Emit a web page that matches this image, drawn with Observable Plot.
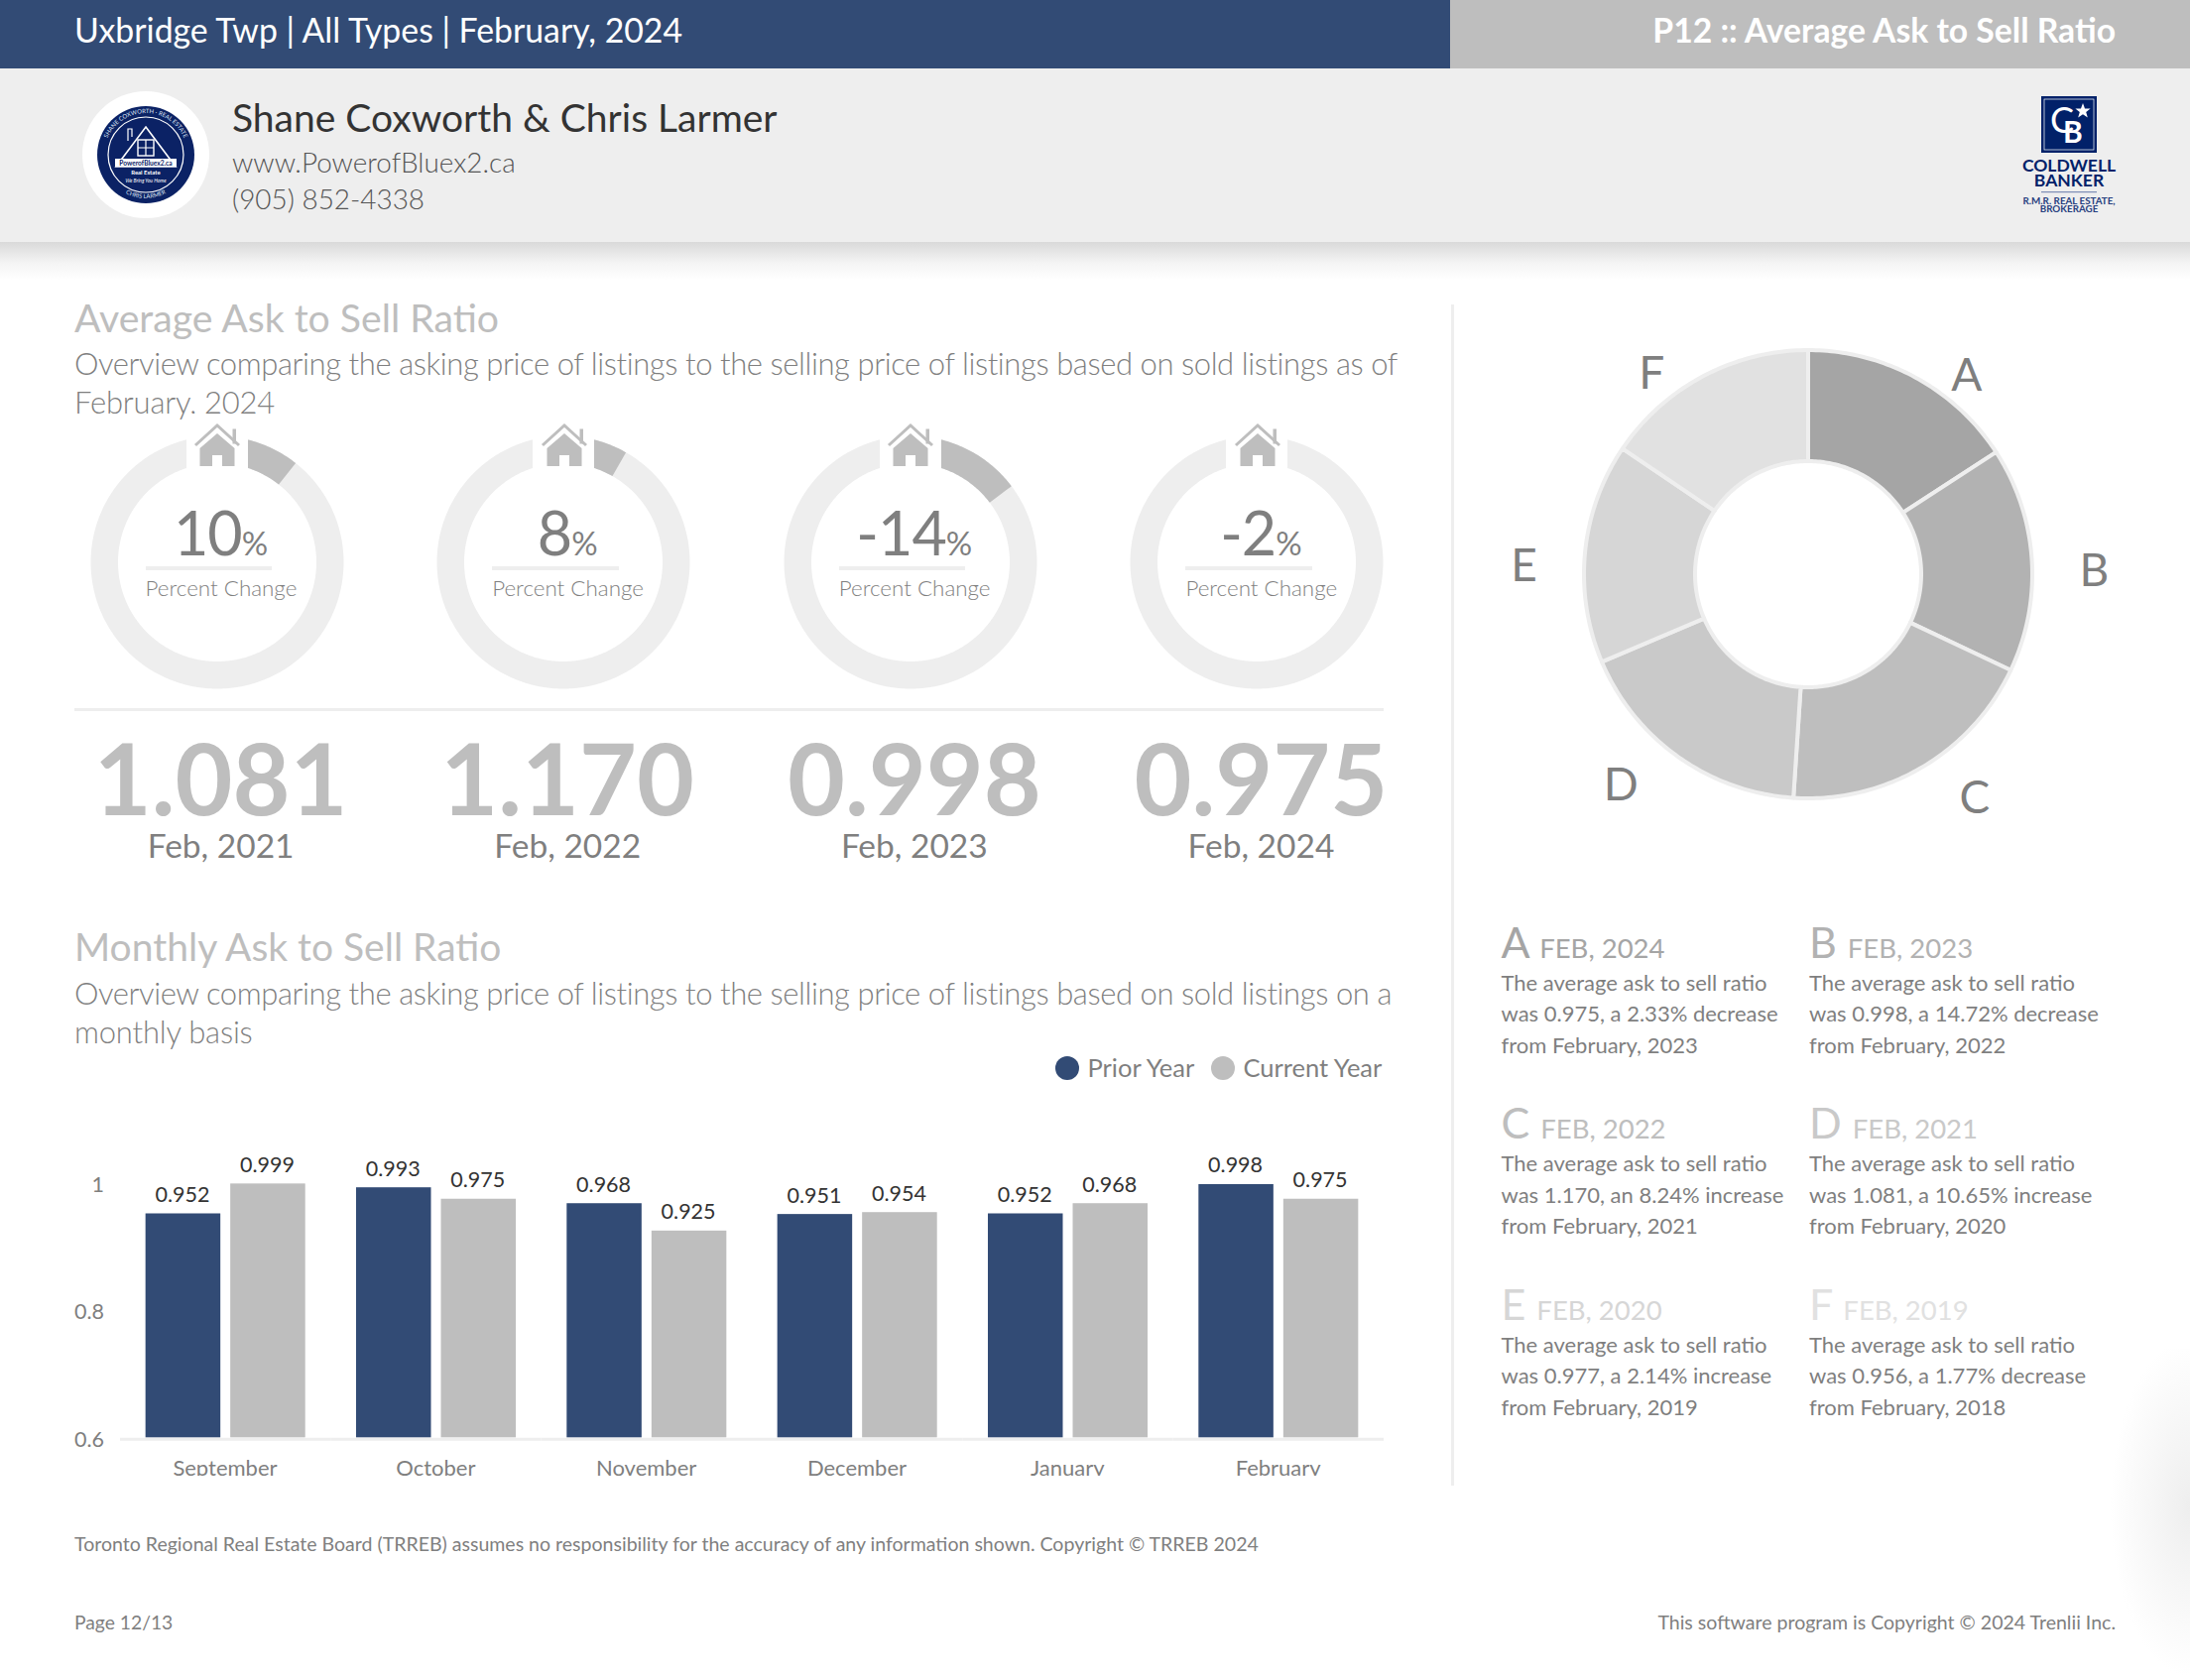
<!DOCTYPE html>
<html><head><meta charset="utf-8">
<script src="https://cdn.jsdelivr.net/npm/d3@7"></script>
<script src="https://cdn.jsdelivr.net/npm/@observablehq/plot@0.6"></script>
<style>
html,body{margin:0;padding:0;background:#fff;}
#page{position:relative;width:2208px;height:1694px;overflow:hidden;font-family:Lato,sans-serif;background:#fff;}
#page>*{position:absolute;}
.t{white-space:nowrap;line-height:1;}
</style></head><body><div id="page"></div>
<script>
// ---------- data ----------
const months = ["September","October","November","December","January","February"];
const priorYear = [0.952,0.993,0.968,0.951,0.952,0.998];
const currentYear = [0.999,0.975,0.925,0.954,0.968,0.975];
const seriesNames = ["Prior Year","Current Year"];
const seriesColors = ["#324b75","#bebebe"];
const gaugeLabels = ["10","8","-14","-2"];
const gaugeChange = [10.65,8.24,14.72,2.33];
const feb4Values = ["1.081","1.170","0.998","0.975"];
const feb4Labels = ["Feb, 2021","Feb, 2022","Feb, 2023","Feb, 2024"];
const sliceKeys = ["A","B","C","D","E","F"];
const sliceValues = [0.975,0.998,1.170,1.081,0.977,0.956];
const sliceColors = ["#a5a5a5","#b2b2b2","#bebebe","#c9c9c9","#d6d6d6","#e1e1e1"];
const sliceHeads = ["FEB, 2024","FEB, 2023","FEB, 2022","FEB, 2021","FEB, 2020","FEB, 2019"];
const sliceBodies = [
 ["The average ask to sell ratio","was 0.975, a 2.33% decrease","from February, 2023"],
 ["The average ask to sell ratio","was 0.998, a 14.72% decrease","from February, 2022"],
 ["The average ask to sell ratio","was 1.170, an 8.24% increase","from February, 2021"],
 ["The average ask to sell ratio","was 1.081, a 10.65% increase","from February, 2020"],
 ["The average ask to sell ratio","was 0.977, a 2.14% increase","from February, 2019"],
 ["The average ask to sell ratio","was 0.956, a 1.77% decrease","from February, 2018"]];

// ---------- layout ----------
const page = document.getElementById("page");
const GREY="#7f7f7f", LIGHT="#bebebe", RULE="#eeeeee";
function box(x,y,w,h,css){const d=document.createElement("div");d.style.cssText=`left:${x}px;top:${y}px;width:${w}px;height:${h}px;${css||""}`;page.appendChild(d);return d;}
function text(str,x,base,size,color,opt={}){
  const d=document.createElement("div");d.className="t";d.textContent=str;
  const top=base-0.887*size+(opt.nudge===undefined?1.5:opt.nudge);
  let css=`top:${top}px;font-size:${size}px;color:${color};font-weight:${opt.w||400};`;
  if(opt.ls!==undefined)css+=`letter-spacing:${opt.ls}px;`;
  if(opt.align==="right")css+=`right:${2208-x}px;`;
  else if(opt.align==="center")css+=`left:${x}px;transform:translateX(-50%);`;
  else css+=`left:${x}px;`;
  d.style.cssText=css;page.appendChild(d);return d;
}
function place(el,x,y){el.style.left=x+"px";el.style.top=y+"px";page.appendChild(el);return el;}
function svg(x,y,w,h,inner){const d=document.createElement("div");d.style.cssText=`left:${x}px;top:${y}px;width:${w}px;height:${h}px;`;
  d.innerHTML=`<svg xmlns="http://www.w3.org/2000/svg" width="${w}" height="${h}" viewBox="0 0 ${w} ${h}" style="display:block;overflow:visible">${inner}</svg>`;page.appendChild(d);return d;}

// header
box(0,0,1462,69,"background:#324b75");
box(1462,0,746,69,"background:#bebebe");
box(0,69,2208,175,"background:#eeeeee");
box(0,244,2208,38,"background:linear-gradient(#d9d9d9,#f4f4f4 55%,#ffffff)");
box(2108,1360,100,334,"background:radial-gradient(ellipse 80px 170px at 100% 48%,#eeeeee,#ffffff00)");
text("Uxbridge Twp | All Types | February, 2024",75,42,33.8,"#fff");
text("P12 :: Average Ask to Sell Ratio",2133,42,33.7,"#fff",{align:"right",w:700});
text("Shane Coxworth & Chris Larmer",234,132,39,"#333");
text("www.PowerofBluex2.ca",234,172.8,27.9,"#555",{w:300});
text("(905) 852-4338",234,210.3,27.9,"#555",{w:300});

// agent seal
svg(83,92,128,128,`
<circle cx="64" cy="64" r="64" fill="#fff"/>
<circle cx="64" cy="64" r="49" fill="#0b2265"/>
<circle cx="64" cy="64" r="38" fill="none" stroke="#fff" stroke-width="1.2"/>
<defs><path id="sealTop" d="M64 64 m-42 0 a42 42 0 1 1 84 0"/><path id="sealBot" d="M64 64 m-44 0 a44 44 0 0 0 88 0"/></defs>
<text font-size="6" fill="#dfe6f5" font-family="Lato"><textPath href="#sealTop" startOffset="50%" text-anchor="middle">SHANE COXWORTH  ·  REAL ESTATE</textPath></text>
<text font-size="6" fill="#dfe6f5" font-family="Lato"><textPath href="#sealBot" startOffset="50%" text-anchor="middle">CHRIS LARMER</textPath></text>
<path d="M64 36 L94 76 L34 76 Z" fill="none" stroke="#fff" stroke-width="1.6"/>
<path d="M46 50 V38 H50 V46" fill="none" stroke="#fff" stroke-width="1.2"/>
<rect x="56" y="49" width="16" height="16" fill="none" stroke="#fff" stroke-width="1.4"/>
<path d="M64 49 V65 M56 57 H72" stroke="#fff" stroke-width="1.2"/>
<rect x="33" y="68" width="62" height="8" fill="#fff"/>
<text x="64" y="74.5" font-size="6.6" text-anchor="middle" fill="#0b2265" font-family="Lato" font-weight="700">PowerofBluex2.ca</text>
<text x="64" y="84" font-size="6" text-anchor="middle" fill="#fff" font-family="Lato" font-weight="700">Real Estate</text>
<text x="64" y="92" font-size="5" text-anchor="middle" fill="#fff" font-family="Lato" font-style="italic">We Bring You Home</text>`);

// Coldwell Banker mark
svg(2030,90,112,130,`
<rect x="28" y="7" width="56" height="57" fill="#012169"/>
<rect x="31" y="10" width="50" height="51" fill="none" stroke="#fff" stroke-width=".7"/>
<text x="49" y="44" font-size="36" font-weight="400" fill="#fff" text-anchor="middle" font-family="Lato">C</text>
<text x="60" y="54" font-size="30" font-weight="700" fill="#fff" text-anchor="middle" font-family="Lato">B</text>
<path d="M70 14 l2 5.4 5.6 .2 -4.4 3.4 1.6 5.4 -4.8 -3.2 -4.8 3.2 1.6 -5.4 -4.4 -3.4 5.6 -.2 z" fill="#fff"/>
<text x="56" y="82.700" font-size="17.500" font-weight="700" fill="#012169" text-anchor="middle" font-family="Lato">COLDWELL</text>
<text x="56" y="98" font-size="17.500" font-weight="700" fill="#012169" text-anchor="middle" font-family="Lato">BANKER</text>
<rect x="28" y="103" width="56" height="1.2" fill="#7d8db5"/>
<text x="56" y="115.500" font-size="9.800" font-weight="700" fill="#27407f" text-anchor="middle" font-family="Lato">R.M.R. REAL ESTATE,</text>
<text x="56" y="124" font-size="9.800" font-weight="700" fill="#27407f" text-anchor="middle" font-family="Lato">BROKERAGE</text>`);

// section heads
text("Average Ask to Sell Ratio",75,333.5,39.2,LIGHT);
text("Overview comparing the asking price of listings to the selling price of listings based on sold listings as of",75,377.3,31,GREY,{w:300,ls:-0.42});
text("February, 2024",75,416,31,GREY,{w:300,ls:-0.2});
text("Monthly Ask to Sell Ratio",75,968.5,39,LIGHT);
text("Overview comparing the asking price of listings to the selling price of listings based on sold listings on a",75,1012,31,GREY,{w:300,ls:-0.42});
text("monthly basis",75,1051,31,GREY,{w:300,ls:-0.2});
box(1463,307,3,1191,`background:${RULE}`);
box(75,713.5,1320,3,`background:${RULE}`);

// ring helpers: one polygon row per step of the arc, read by Plot.area through its x / y scales
function arcRows(key,color,fromDeg,toDeg,r0,r1){
  const steps=Math.max(2,Math.ceil(Math.abs(toDeg-fromDeg)));
  return d3.range(steps+1).map(i=>{
    const a=(fromDeg+(toDeg-fromDeg)*i/steps)*Math.PI/180, s=Math.sin(a), c=Math.cos(a);
    return {key,color,x0:r0*s,y0:r0*c,x1:r1*s,y1:r1*c};
  });
}
function polarPlot(half,marks){
  return Plot.plot({width:2*half,height:2*half,margin:0,
    x:{domain:[-half,half],axis:null},y:{domain:[-half,half],axis:null},
    color:{type:"identity"},style:{background:"transparent",fontFamily:"Lato"},marks});
}

// four gauges
const ringX=[218.6,568.2,917.8,1267.4], ringY=566.9, RO=127.5, RI=100, half=150;
const houseIcon=`<path d="M-22 21 L0 1 L22 21" fill="none" stroke="#bebebe" stroke-width="3"/>
<rect x="15.5" y="4.500" width="3.500" height="15" fill="#bebebe"/>
<path fill-rule="evenodd" fill="#bebebe" d="M0 9 L17.500 24 V42 H-17.500 V24 Z M-5 42 H5 V31 H-5 Z"/>`;
gaugeLabels.forEach((label,i)=>{
  const cx=ringX[i];
  const rows=[...arcRows("track"+i,RULE,0,360,RI,RO),...arcRows("value"+i,LIGHT,0,gaugeChange[i]*3.6,RI,RO)];
  const p=polarPlot(half,[
    Plot.area(rows,{x1:"x0",y1:"y0",x2:"x1",y2:"y1",z:"key",fill:"color"}),
    Plot.rect([{a:-31,b:31,c:93.5,d:half}],{x1:"a",x2:"b",y1:"c",y2:"d",fill:"#fff"})
  ]);
  place(p,cx-half,ringY-half);
  svg(cx+0.5,428,1,1,houseIcon);
  const v=text(label,cx+4,560,61,GREY,{ls:-1,nudge:0.5});
  const pct=document.createElement("span");pct.textContent="%";pct.style.cssText="font-size:33px;letter-spacing:0";v.appendChild(pct);
  v.style.left=(cx+4)+"px";v.style.transform="translateX(-50%)";
  box(cx-72,571,127.5,3.5,`background:${RULE}`);
  text("Percent Change",cx-72,600,22.4,GREY,{w:300});
  text(feb4Values[i],cx+4,821.5,100,LIGHT,{align:"center",w:700,nudge:0});
  text(feb4Labels[i],cx+4,864,33.5,GREY,{align:"center"});
});

// donut
const total=d3.sum(sliceValues);
const labelNudge=[9.8,3,-6.3,6.4,-3.7,-9.9], labelRadius=[257,288,280,284,287,258];
let acc=0;
const sliceRows=[],sliceLabels=[];
sliceValues.forEach((v,i)=>{
  const from=acc/total*360,to=(acc+v)/total*360;acc+=v;
  sliceRows.push(...arcRows(sliceKeys[i],sliceColors[i],from,to,114,226));
  const m=((from+to)/2+labelNudge[i])*Math.PI/180;
  sliceLabels.push({k:sliceKeys[i],x:labelRadius[i]*Math.sin(m),y:labelRadius[i]*Math.cos(m)});
});
const donut=polarPlot(330,[
  Plot.area(sliceRows,{x1:"x0",y1:"y0",x2:"x1",y2:"y1",z:"key",fill:"color",stroke:RULE,strokeWidth:4}),
  Plot.text(sliceLabels,{x:"x",y:"y",dy:1,text:"k",fill:GREY,fontSize:46,fontFamily:"Lato",fontWeight:400})
]);
place(donut,1823.4-330,578.7-330);

// slice notes
sliceKeys.forEach((k,i)=>{
  const col=i%2,row=Math.floor(i/2),x=(col?1824:1513.5),b=964.5+row*182.5;
  const h=text(k+" ",x,b,43,sliceColors[i]);
  const s=document.createElement("span");s.textContent=sliceHeads[i];s.style.fontSize="27.5px";h.appendChild(s);
  sliceBodies[i].forEach((ln,j)=>text(ln,x,b+33.5+j*31.5,22,GREY));
});

// legend
seriesNames.forEach((n,i)=>{
  const cx=[1076,1233][i];
  box(cx-12,1077.2-12,24,24,`background:${seriesColors[i]};border-radius:50%`);
  text(n,cx+20.5,1085,25.5,GREY);
});

// footer
text("Toronto Regional Real Estate Board (TRREB) assumes no responsibility for the accuracy of any information shown. Copyright © TRREB 2024",75,1563,19.55,GREY);
text("Page 12/13",75,1642,19.3,GREY);
text("This software program is Copyright © 2024 Trenlii Inc.",2133,1642,19.55,GREY,{align:"right"});

// monthly bars
const rows=months.flatMap((m,i)=>[
  {month:m,series:seriesNames[0],value:priorYear[i]},
  {month:m,series:seriesNames[1],value:currentYear[i]}]);
const bars=Plot.plot({
  width:1320,height:338,marginLeft:46,marginRight:0,marginTop:42.7,marginBottom:38.7,
  fx:{domain:months,padding:0,round:false,axis:null,label:null},
  x:{domain:seriesNames,paddingInner:0.117,paddingOuter:0.3,round:false,axis:null,label:null},
  y:{domain:[0.6,1],axis:null,label:null},
  color:{domain:seriesNames,range:seriesColors},
  style:{background:"transparent",fontFamily:"Lato",overflow:"hidden"},
  marks:[
    Plot.ruleY([0.6],{stroke:RULE,strokeWidth:3,dy:1.5}),
    Plot.barY(rows,{fx:"month",x:"series",y1:0.6,y2:"value",fill:"series"}),
    Plot.text(rows,{fx:"month",x:"series",y:"value",text:d=>d3.format(".3f")(d.value),dy:-19,dx:-1,fill:"#333",fontSize:21.5,fontFamily:"Lato"}),
    Plot.axisY({ticks:[0.6,0.8,1],tickSize:0,tickPadding:16.5,dy:2,label:null,tickFormat:d=>String(d),fill:GREY,fontSize:21.5,fontFamily:"Lato"}),
    Plot.axisFx({domain:months,anchor:"bottom",tickSize:0,tickPadding:23,dx:-0.7,label:null,fill:GREY,fontSize:22,fontFamily:"Lato"})
  ]});
place(bars,75,1150);
</script></body></html>
